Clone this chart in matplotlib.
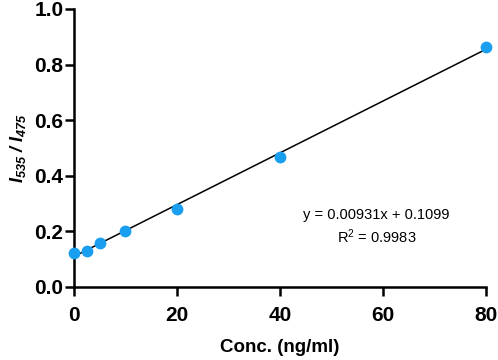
#!/usr/bin/env python3
# Calibration curve: I535/I475 ratio vs concentration
import numpy as np
import matplotlib.pyplot as plt

plt.rcParams['font.family'] = ['Liberation Sans', 'DejaVu Sans']
plt.rcParams['mathtext.default'] = 'regular'

conc = [0, 2.5, 5, 10, 20, 40, 80]
ratio = [0.122, 0.131, 0.157, 0.200, 0.281, 0.467, 0.864]
slope = 0.00931
intercept = 0.1099
r2 = 0.9983

fig = plt.figure(figsize=(4.98, 3.6), dpi=100)
ax = fig.add_axes([0.1486, 0.2028, 0.8267, 0.7722])

xfit = np.array([0, 80])
ax.plot(xfit, slope * xfit + intercept, color='black', lw=1.1, zorder=2)
ax.plot(conc, ratio, 'o', color='#1a9ff0', ms=8.5, mec='none', zorder=3, clip_on=False)

ax.set_xlim(0, 80)
ax.set_ylim(0, 1.0)
ax.set_xticks([0, 20, 40, 60, 80])
ax.set_yticks([0.0, 0.2, 0.4, 0.6, 0.8, 1.0])
ax.set_yticklabels(['0.0', '0.2', '0.4', '0.6', '0.8', '1.0'])

for s in ['top', 'right']:
    ax.spines[s].set_visible(False)
for s in ['left', 'bottom']:
    ax.spines[s].set_linewidth(1.8)

ax.tick_params(direction='out', length=6.5, width=1.8, labelsize=15)
ax.tick_params(axis='x', pad=7)
ax.tick_params(axis='y', pad=1)
for lab in ax.get_xticklabels() + ax.get_yticklabels():
    lab.set_fontweight('bold')

ax.set_xlabel('Conc. (ng/ml)', fontsize=13.5, fontweight='bold', labelpad=10)
ax.set_ylabel('$I_{535}$ / $I_{475}$', fontsize=13, fontweight='bold',
              fontstyle='italic', labelpad=5)

ax.text(58.8, 0.259, 'y = %.5fx + %.4f' % (slope, intercept), ha='center', va='center', fontsize=10.5)
ax.text(58.8, 0.181, 'R$^2$ = %.4f' % r2, ha='center', va='center', fontsize=10.5)

fig.savefig('out.png', dpi=100)
